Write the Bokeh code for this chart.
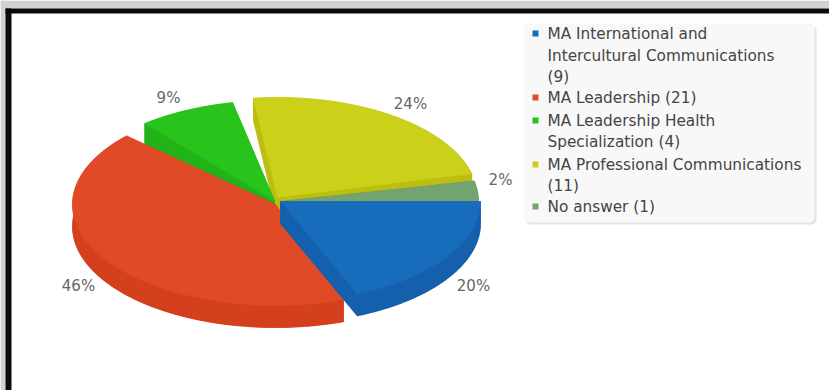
import numpy as np
from bokeh.core.properties import value
from bokeh.embed import file_html
from bokeh.models import BoxAnnotation
from bokeh.plotting import figure
from bokeh.resources import INLINE

# Survey responses per programme
programmes = [
    "MA International and Intercultural Communications",
    "MA Leadership",
    "MA Leadership Health Specialization",
    "MA Professional Communications",
    "No answer",
]
counts = [9, 21, 4, 11, 1]
percent_labels = ["20%", "46%", "9%", "24%", "2%"]

top_colors = ["#176CBB", "#E04A26", "#28C41C", "#CBD018", "#73A36F"]
side_colors = ["#1560AC", "#D43F1E", "#22B318", "#BDBD12", "#68956A"]

# Legend rows, wrapped by hand: (slice index or None for a continuation, text)
legend_rows = [
    (0, "MA International and"),
    (None, "Intercultural Communications"),
    (None, "(9)"),
    (1, "MA Leadership (21)"),
    (2, "MA Leadership Health"),
    (None, "Specialization (4)"),
    (3, "MA Professional Communications"),
    (None, "(11)"),
    (4, "No answer (1)"),
]
legend_y = [33, 55, 76, 97, 120, 141, 164, 185, 206]

# Pie layout, in page pixels
radii_y = [100, 101, 100, 100, 100]
DEPTH = 22
radii_x = [200, 203, 203, 200, 198]
centers = [(280, 201), (275, 204), (274, 200), (277, 197), (280, 201)]
# The slices' edges are eased by a few degrees to follow the tilted view
edge_ease = [(0, -3), (0, -12), (-4.5, -8), (-3, -6), (-4, 0)]
label_xy = [(473, 285), (78, 285), (168, 97), (410, 103), (500, 179)]

p = figure(
    width=829, height=390, x_range=(0, 829), y_range=(390, 0),
    output_backend="svg", toolbar_location=None, min_border=0,
    background_fill_color="#FFFFFF", border_fill_color="#FFFFFF",
    outline_line_color=None,
)
p.axis.visible = False
p.grid.visible = False

# Screen frame along the top and left edges
p.quad(left=[0], right=[829], top=[0], bottom=[8], fill_color="#D2D2D2", line_color=None)
p.quad(left=[0], right=[5], top=[0], bottom=[390], fill_color="#D2D2D2", line_color=None)
p.quad(left=[5], right=[829], top=[8], bottom=[13], fill_color="#0A0A0A", line_color=None)
p.quad(left=[5], right=[11], top=[8], bottom=[390], fill_color="#0A0A0A", line_color=None)

shares = np.array(counts, dtype=float) / sum(counts)
edges = np.concatenate([[0.0], np.cumsum(shares)]) * 360.0

# Paint back to front so nearer slices hide the walls behind them
for i in [3, 2, 4, 1, 0]:
    cx, cy = centers[i]
    t0 = np.radians(edges[i] + edge_ease[i][0])
    t1 = np.radians(edges[i + 1] + edge_ease[i][1])
    t = np.linspace(t0, t1, 90)
    ax = cx + radii_x[i] * np.cos(t)
    ay = cy + radii_y[i] * np.sin(t)

    walls_x = [
        [cx, ax[0], ax[0], cx],
        [cx, ax[-1], ax[-1], cx],
        np.concatenate([ax, ax[::-1]]).tolist(),
        np.concatenate([[cx], ax]).tolist(),
    ]
    walls_y = [
        [cy, ay[0], ay[0] + DEPTH, cy + DEPTH],
        [cy, ay[-1], ay[-1] + DEPTH, cy + DEPTH],
        np.concatenate([ay, ay[::-1] + DEPTH]).tolist(),
        np.concatenate([[cy + DEPTH], ay + DEPTH]).tolist(),
    ]
    p.patches(walls_x, walls_y, fill_color=side_colors[i], line_color=side_colors[i], line_width=0.5)
    p.patch(np.concatenate([[cx], ax]), np.concatenate([[cy], ay]),
            fill_color=top_colors[i], line_color=top_colors[i], line_width=0.5)

p.text(
    [xy[0] for xy in label_xy], [xy[1] for xy in label_xy], text=percent_labels,
    text_font=value("DejaVu Sans"), text_font_size="15px", text_color="#666666",
    text_align="center", text_baseline="middle",
)

# Legend panel with a faint drop shadow
p.add_layout(BoxAnnotation(left=525, right=816, top=25, bottom=224, border_radius=5,
                           fill_color="#E4E4E4", fill_alpha=1, line_color=None, level="underlay"))
p.add_layout(BoxAnnotation(left=523, right=814, top=23, bottom=222, border_radius=5,
                           fill_color="#F8F8F8", fill_alpha=1, line_color=None, level="underlay"))

swatch_rows = [(y, row[0]) for y, row in zip(legend_y, legend_rows) if row[0] is not None]
p.scatter([535] * len(swatch_rows), [r[0] for r in swatch_rows], marker="square", size=6,
          fill_color=[top_colors[r[1]] for r in swatch_rows], line_color=None)
p.text([547] * len(legend_rows), legend_y, text=[row[1] for row in legend_rows],
       text_font=value("DejaVu Sans"), text_font_size="15.3px", text_color="#444444",
       text_align="left", text_baseline="middle")

open("out.html", "w").write(file_html(p, INLINE))
